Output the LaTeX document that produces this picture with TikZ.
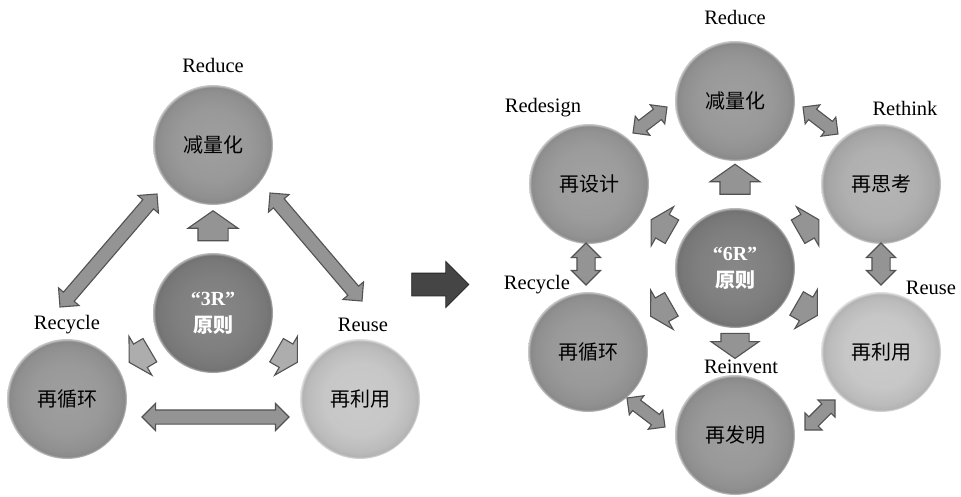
\documentclass[tikz,border=0pt]{standalone}
\usepackage{fontspec}
\setmainfont{Liberation Serif}
\newfontfamily\cjk{Noto Sans CJK SC}
\usetikzlibrary{shapes.arrows,calc}

% button-like shading for the round nodes; its colour follows "btn"
\colorlet{btn}{gray}
\pgfdeclareradialshading[btn]{button}{\pgfpoint{0bp}{0bp}}{%
  color(0bp)=(btn!94!white); color(15bp)=(btn); color(22bp)=(btn!94!black);
  color(24bp)=(btn!90!black); color(25bp)=(btn!50!white); color(50bp)=(white)}

% block arrow from node #1 towards node #2, placed at fraction #3, style #4, name #5
\newcommand\spokearrow[5]{%
  \path let \p1=(#1), \p2=(#2), \n1={atan2(\y2-\y1,\x2-\x1)} in
    node[#4, rotate=\n1] (#5) at ($(#1)!#3!(#2)$) {};}
% two-headed block arrow between coordinates #1 and #2, style #3, name #4
\newcommand\linkarrow[4]{%
  \path let \p1=(#1), \p2=(#2), \n1={atan2(\y2-\y1,\x2-\x1)},
    \n2={veclen(\x2-\x1,\y2-\y1)} in
    node[#3, rotate=\n1, minimum height=\n2] (#4) at ($(#1)!0.5!(#2)$) {};}

\tikzset{
  tone/.code={\colorlet{btn}{#1}},
  ball/.style={circle, minimum size=120pt, inner sep=0pt, shade, shading=button,
    font=\cjk\fontsize{20}{24}\selectfont},
  core/.style={ball, tone=black!50, text=white, align=center,
    font=\bfseries\fontsize{20}{27}\selectfont},
  lbl/.style={inner sep=0pt, font=\fontsize{20.5}{24}\selectfont},
  % block arrows: shaft width = 2 * inner ysep
  blk/.style={draw=black!68, line width=1.1pt, fill=black!42, inner xsep=0pt,
    outer sep=0pt, line join=miter},
  longdbl/.style={blk, double arrow, inner ysep=6.5pt, minimum width=26pt,
    double arrow head extend=6.5pt, double arrow tip angle=90},
  shortdbl/.style={blk, double arrow, inner ysep=6pt, minimum width=23pt,
    double arrow head extend=5.5pt, double arrow tip angle=90},
  vertdbl/.style={blk, double arrow, inner ysep=8.5pt, minimum width=28pt,
    double arrow head extend=5.5pt, double arrow tip angle=90},
  uparr/.style={blk, single arrow, inner ysep=14.5pt, minimum width=49pt,
    minimum height=30pt, single arrow head extend=10pt, single arrow tip angle=110},
  downarr/.style={blk, single arrow, inner ysep=13.5pt, minimum width=47pt,
    minimum height=25pt, single arrow head extend=10pt, single arrow tip angle=110},
  diagarr/.style={blk, single arrow, inner ysep=13pt, minimum width=44pt,
    minimum height=24pt, single arrow head extend=9pt, single arrow tip angle=120},
  lightarr/.style={diagarr, fill=black!32},
  bigarr/.style={single arrow, draw=black!85, line width=0.8pt, fill=black!73,
    inner xsep=0pt, inner ysep=11pt, minimum width=45pt, minimum height=57pt,
    single arrow head extend=11.5pt, single arrow tip angle=90}
}

\begin{document}
\begin{tikzpicture}[x=1pt, y=-1pt]
\useasboundingbox (0,0) rectangle (961,496);

% ---------------- "3R" ----------------
\node[ball, tone=black!40] (reduceA)  at (213,145) {减量化};
\node[ball, tone=black!40] (recycleA) at (67,399)  {再循环};
\node[ball, tone=black!22] (reuseA)   at (360,399) {再利用};
\node[core] (coreA) at (213,313) {“3R”\\{\cjk\bfseries 原则}};

\node[lbl] (lReduceA)  at (213,65)  {Reduce};
\node[lbl] (lRecycleA) at (67,325)  {Recycle};
\node[lbl] (lReuseA)   at (363,325) {Reuse};

\spokearrow{coreA}{reduceA}{0.488}{uparr}{sA1}
\spokearrow{coreA}{recycleA}{0.48}{lightarr}{sA2}
\spokearrow{coreA}{reuseA}{0.48}{lightarr}{sA3}

\coordinate (a1) at (157,194); \coordinate (a2) at (60,307);
\coordinate (b1) at (270,193); \coordinate (b2) at (362,301);
\coordinate (c1) at (142,417); \coordinate (c2) at (289,417);
\linkarrow{a1}{a2}{longdbl}{dA1}
\linkarrow{b1}{b2}{longdbl}{dA2}
\linkarrow{c1}{c2}{longdbl}{dA3}

% transition arrow
\node[bigarr] (next) at (434.5,284.5) {};

% ---------------- "6R" ----------------
\node[ball, tone=black!40] (reduceB)   at (735,101) {减量化};
\node[ball, tone=black!39] (redesignB) at (589,184) {再设计};
\node[ball, tone=black!31] (rethinkB)  at (881,184) {再思考};
\node[ball, tone=black!40] (recycleB)  at (588,352) {再循环};
\node[ball, tone=black!22] (reuseB)    at (881,352) {再利用};
\node[ball, tone=black!40] (reinventB) at (735,435) {再发明};
\node[core] (coreB) at (735,268) {“6R”\\{\cjk\bfseries 原则}};

\node[lbl] (lReduceB)   at (735,17)  {Reduce};
\node[lbl] (lRedesignB) at (543,108) {Redesign};
\node[lbl] (lRethinkB)  at (905,108) {Rethink};
\node[lbl] (lRecycleB)  at (537,285) {Recycle};
\node[lbl] (lReuseB)    at (931,288) {Reuse};
\node[lbl] (lReinventB) at (741,367) {Reinvent};

\spokearrow{coreB}{reduceB}{0.5}{uparr}{sB1}
\spokearrow{coreB}{reinventB}{0.437}{downarr}{sB2}
\spokearrow{coreB}{redesignB}{0.48}{diagarr}{sB3}
\spokearrow{coreB}{rethinkB}{0.48}{diagarr}{sB4}
\spokearrow{coreB}{recycleB}{0.48}{diagarr}{sB5}
\spokearrow{coreB}{reuseB}{0.47}{diagarr}{sB6}

\coordinate (d1) at (633,133); \coordinate (d2) at (667,107);
\coordinate (e1) at (803,107); \coordinate (e2) at (838,134);
\coordinate (f1) at (586,243); \coordinate (f2) at (586,285);
\coordinate (g1) at (881,243); \coordinate (g2) at (881,285);
\coordinate (h1) at (627,398); \coordinate (h2) at (665,427);
\coordinate (i1) at (805,430); \coordinate (i2) at (835,400);
\linkarrow{d1}{d2}{shortdbl}{dB1}
\linkarrow{e1}{e2}{shortdbl}{dB2}
\linkarrow{f1}{f2}{vertdbl}{dB3}
\linkarrow{g1}{g2}{vertdbl}{dB4}
\linkarrow{h1}{h2}{shortdbl}{dB5}
\linkarrow{i1}{i2}{shortdbl}{dB6}
\end{tikzpicture}
\end{document}
